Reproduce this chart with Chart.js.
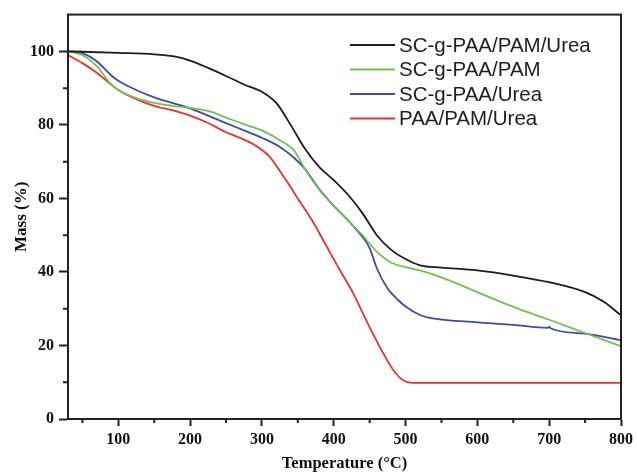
<!DOCTYPE html>
<html>
<head>
<meta charset="utf-8">
<script src="https://cdn.jsdelivr.net/npm/chart.js@4.4.1/dist/chart.umd.min.js"></script>
<style>
  html, body { margin: 0; padding: 0; background: #fff; }
  #wrap { width: 637px; height: 474px; }
</style>
</head>
<body>
<div id="wrap"><canvas id="tga"></canvas></div>
<script>
// TGA curves
const labels = ["SC-g-PAA/PAM/Urea", "SC-g-PAA/PAM", "SC-g-PAA/Urea", "PAA/PAM/Urea"];
const colors = ["#1c1c1c", "#72c152", "#3f4aa8", "#ec3030"];

const tempBlack = [30, 50, 100, 150, 180, 200, 225, 250, 275, 300, 320, 340, 360, 380, 400, 420, 440, 460, 480, 500, 520, 550, 600, 650, 700, 750, 775, 800];
const massBlack = [100, 99.9, 99.6, 99.2, 98.6, 97.5, 95.5, 93.3, 91, 89, 86, 80, 73.5, 68.5, 65, 61, 56, 50, 46, 43.5, 41.8, 41.2, 40.4, 39, 37.2, 34.5, 32, 28.2];

const tempGreen = [30, 50, 70, 90, 100, 125, 150, 175, 200, 225, 250, 275, 300, 325, 345, 360, 380, 400, 420, 440, 460, 480, 500, 520, 550, 600, 650, 700, 750, 800];
const massGreen = [100, 99, 96, 91, 89.5, 87.3, 86, 85.2, 84.6, 83.8, 82, 80.2, 78.5, 75.8, 73, 68, 62.3, 58, 54, 50, 45.5, 42.5, 41.3, 40.4, 38.5, 34.5, 30.5, 27, 23.4, 19.8];

const tempBlue = [30, 50, 70, 90, 100, 125, 150, 175, 200, 225, 250, 275, 300, 325, 345, 360, 380, 400, 420, 440, 450, 460, 475, 490, 500, 520, 540, 600, 650, 698, 700, 702, 750, 800];
const massBlue = [100, 99.5, 97.3, 93.5, 92, 89.5, 87.5, 86, 84.5, 82.5, 80.5, 78.5, 76.5, 74, 71, 68, 62.5, 58, 54, 49.5, 46.5, 41, 35.5, 32.3, 30.6, 28.3, 27.3, 26.3, 25.6, 24.8, 25.1, 24.7, 23.2, 21.4];

const tempRed = [30, 50, 70, 90, 100, 125, 150, 175, 200, 225, 250, 275, 290, 310, 330, 350, 370, 390, 410, 425, 440, 455, 470, 485, 500, 515, 550, 650, 800];
const massRed = [99, 96.8, 94.2, 91, 89.5, 87, 85.2, 84, 82.5, 80.5, 78, 76, 74.5, 71.5, 66, 60, 54, 47, 40, 35, 29, 23, 17.5, 12.8, 10.2, 9.8, 9.8, 9.8, 9.8];

const xTicks = [100, 200, 300, 400, 500, 600, 700, 800];
const xMinor = [50, 150, 250, 350, 450, 550, 650, 750];
const yTicks = [0, 20, 40, 60, 80, 100];
const yMinor = [10, 30, 50, 70, 90];

const axisColor = "#222";
const serif = "'Liberation Serif', 'Times New Roman', serif";

function pts(t, m) { return t.map((v, i) => ({ x: v, y: m[i] })); }
const series = [pts(tempBlack, massBlack), pts(tempGreen, massGreen), pts(tempBlue, massBlue), pts(tempRed, massRed)];

// box round the plot + minor ticks
const frame = {
  id: "frame",
  afterDraw(chart) {
    const { ctx, chartArea: a, scales } = chart;
    ctx.save();
    ctx.strokeStyle = axisColor;
    ctx.lineWidth = 2;
    ctx.strokeRect(a.left, a.top, a.right - a.left, a.bottom - a.top);
    ctx.beginPath();
    xMinor.forEach(v => {
      const px = scales.x.getPixelForValue(v);
      ctx.moveTo(px, a.bottom);
      ctx.lineTo(px, a.bottom + 4);
    });
    yMinor.forEach(v => {
      const py = scales.y.getPixelForValue(v);
      ctx.moveTo(a.left, py);
      ctx.lineTo(a.left - 5, py);
    });
    ctx.stroke();
    ctx.restore();
  }
};

// legend inside the plot, top right
const insideLegend = {
  id: "insideLegend",
  afterDraw(chart) {
    const ctx = chart.ctx;
    ctx.save();
    ctx.font = "20.5px 'Liberation Sans', Arial, sans-serif";
    ctx.textBaseline = "middle";
    chart.data.datasets.forEach((ds, i) => {
      const y = 45 + i * 24.5;
      ctx.strokeStyle = ds.borderColor;
      ctx.lineWidth = 2;
      ctx.beginPath();
      ctx.moveTo(350, y);
      ctx.lineTo(395, y);
      ctx.stroke();
      ctx.fillStyle = "#1e1e1e";
      ctx.fillText(ds.label, 399, y + 1);
    });
    ctx.restore();
  }
};

new Chart(document.getElementById("tga"), {
  type: "line",
  data: {
    datasets: labels.map((l, i) => ({
      label: l,
      data: series[i],
      borderColor: colors[i],
      borderWidth: 1.8,
      pointRadius: 0,
      cubicInterpolationMode: "monotone",
      fill: false
    }))
  },
  options: {
    responsive: true,
    maintainAspectRatio: false,
    animation: false,
    layout: { padding: { top: 13, right: 15, left: 0, bottom: 0 } },
    plugins: { legend: { display: false }, tooltip: { enabled: false } },
    scales: {
      x: {
        type: "linear",
        min: 30,
        max: 800,
        afterBuildTicks: s => { s.ticks = xTicks.map(v => ({ value: v })); },
        afterFit: s => { s.height = 55; },
        grid: { drawOnChartArea: false, tickLength: 7, tickWidth: 2, tickColor: axisColor },
        border: { color: axisColor, width: 2 },
        ticks: { color: "#111", padding: 4, maxRotation: 0, font: { family: serif, size: 16, weight: "bold" } },
        title: { display: true, text: "Temperature (°C)", color: "#111", padding: { top: 0, bottom: 0 }, font: { family: serif, size: 16.5, weight: "bold" } }
      },
      y: {
        min: 0,
        max: 110,
        afterBuildTicks: s => { s.ticks = yTicks.map(v => ({ value: v })); },
        afterFit: s => { s.width = 68; },
        grid: { drawOnChartArea: false, tickLength: 9, tickWidth: 2, tickColor: axisColor },
        border: { color: axisColor, width: 2 },
        ticks: { color: "#111", padding: 5, font: { family: serif, size: 16, weight: "bold" } },
        title: { display: true, text: "Mass (%)", color: "#111", padding: { top: 11, bottom: 0 }, font: { family: serif, size: 17, weight: "bold" } }
      }
    }
  },
  plugins: [frame, insideLegend]
});
</script>
</body>
</html>
